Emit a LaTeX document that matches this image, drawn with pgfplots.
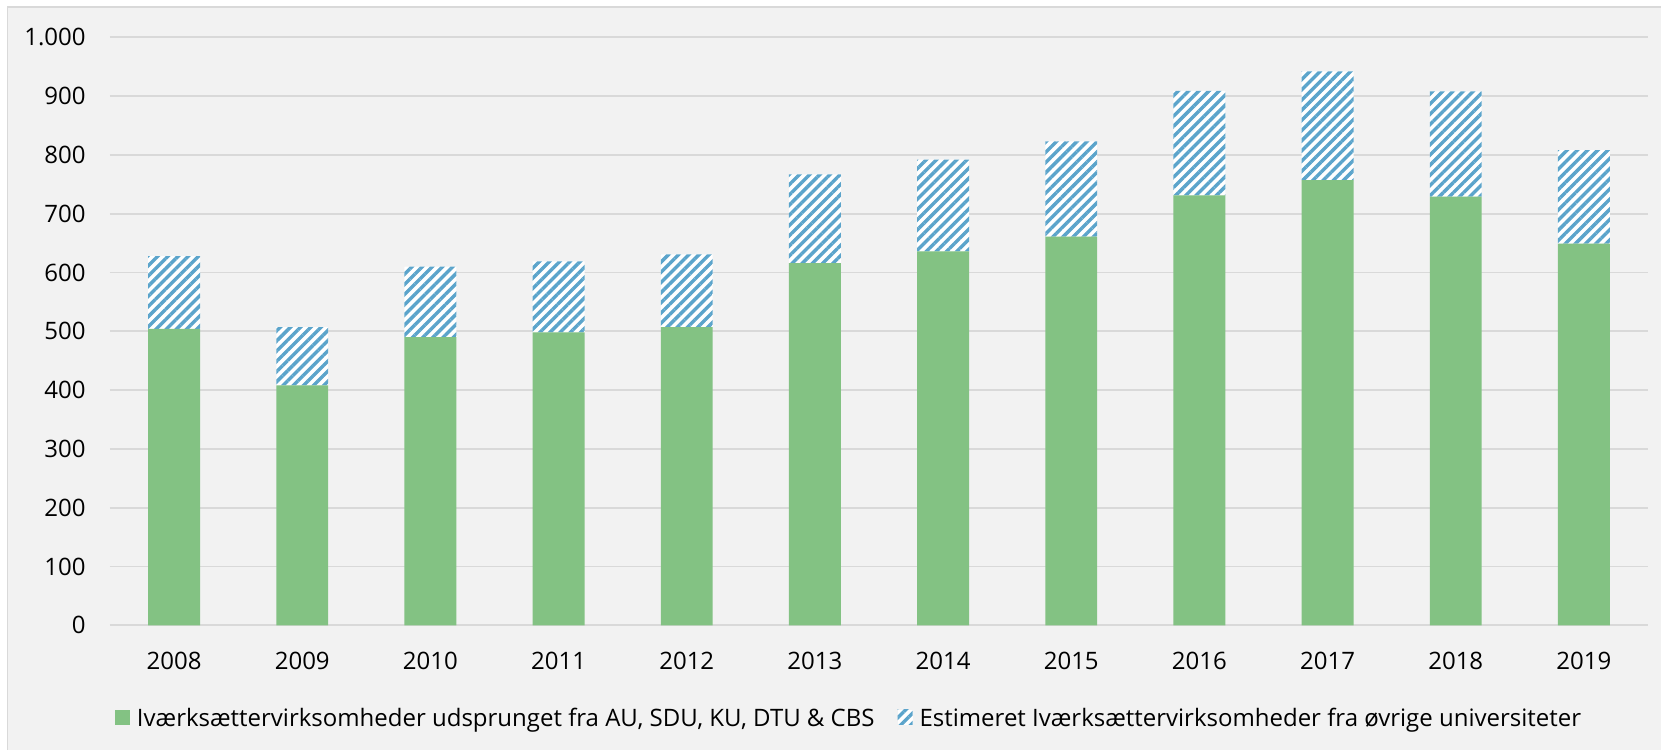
\documentclass[border=0pt]{standalone}
\usepackage{pgfplots}
\pgfplotsset{compat=1.18}
\usepackage{pgfplotstable}
\usetikzlibrary{patterns.meta}
\usepackage{fontspec}
\setmainfont{Open Sans}
\definecolor{barGreen}{HTML}{83C283}
\definecolor{hatchBlue}{HTML}{5BA4CB}
\definecolor{bgGray}{HTML}{F2F2F2}
\definecolor{gridGray}{HTML}{D9D9D9}

\pgfplotstableread{
x green est
0 504 124
1 408 99
2 490 120
3 498 121
4 507 124
5 616 151
6 636 156
7 661 162
8 731 178
9 757 185
10 729 179
11 649 159
}\datatable

\begin{document}
\begin{tikzpicture}
\fill[bgGray] (-51.2pt,-62.35pt) rectangle (775.5pt,309pt);
\draw[gridGray, line width=0.8pt] (-51.2pt,-62.35pt) -- (-51.2pt,309pt) -- (775.5pt,309pt);
\begin{axis}[
  at={(0pt,0pt)}, anchor=south west,
  width=769pt, height=294pt, scale only axis,
  xmin=-0.5, xmax=11.5, ymin=0, ymax=1000,
  ybar stacked, bar width=0.405,
  xtick=data,
  xticklabels={2008,2009,2010,2011,2012,2013,2014,2015,2016,2017,2018,2019},
  ytick={0,100,...,1000},
  scaled y ticks=false,
  ymajorgrids,
  grid style={line width=0.9pt, color=gridGray},
  axis line style={draw=none},
  major tick length=0pt,
  tick label style={font=\fontsize{12}{14}\selectfont, text=black},
  yticklabel style={anchor=east, inner sep=0pt, xshift=-12pt,
    /pgf/number format/.cd, 1000 sep={.}, assume math mode=true},
  xticklabel style={anchor=north, inner sep=0pt, yshift=-13.2pt},
  legend columns=2,
  legend style={draw=none, fill=none, inner sep=0pt, outer sep=0pt,
    at={(axis description cs:0.00325,-0.159)}, anchor=west,
    font=\fontsize{12}{14}\selectfont,
    column sep=3.5pt,
    /tikz/every even column/.append style={column sep=11.5pt},
    nodes={inner sep=0pt}},
  legend image code/.code={\fill[#1, draw=none] (0pt,-3.1pt) rectangle (7.5pt,4.4pt);},
]
\addplot[fill=barGreen, draw=none] table[x=x, y=green] {\datatable};
\addlegendentry{Iværksættervirksomheder udsprunget fra AU, SDU, KU, DTU \& CBS}
\addplot[fill=white, draw=none,
  postaction={pattern={Lines[angle=45, distance=3.6pt, line width=1.7pt]}, pattern color=hatchBlue}]
  table[x=x, y=est] {\datatable};
\addlegendentry{Estimeret Iværksættervirksomheder fra øvrige universiteter}
\end{axis}
\pgfresetboundingbox
\path[use as bounding box] (-55pt,-62.35pt) rectangle (775.5pt,312.65pt);
\end{tikzpicture}
\end{document}
